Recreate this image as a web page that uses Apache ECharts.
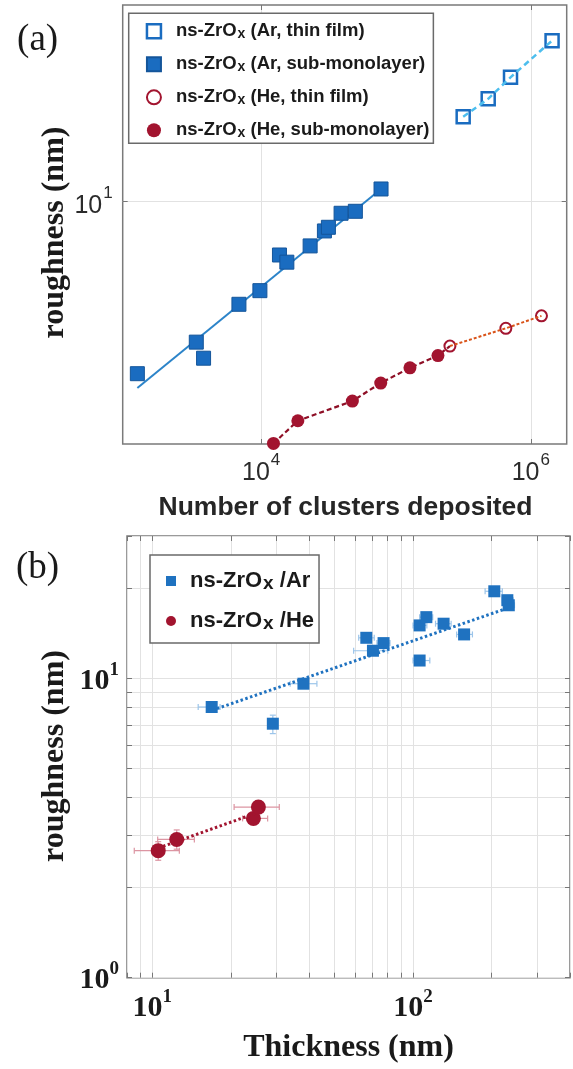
<!DOCTYPE html>
<html>
<head>
<meta charset="utf-8">
<script src="https://cdn.jsdelivr.net/npm/echarts@6/dist/echarts.min.js"></script>
<style>html,body{margin:0;padding:0;background:#fff}#c{width:573px;height:1069px}</style>
</head>
<body>
<div id="c"></div>
<script>
// ---------- Panel (a): roughness vs number of clusters ----------
const arThinN = [315000, 483000, 707000, 1438000];
const arThinR = [20.1, 23.3, 27.8, 37.6];
const arSubN = [1206, 3300, 3737, 6836, 9781, 13660, 15500, 23070, 29440, 31510, 39140, 49940, 77440];
const arSubR = [2.43, 3.15, 2.76, 4.30, 4.81, 6.45, 6.08, 6.95, 7.86, 8.10, 9.09, 9.24, 11.1];
const heThinN = [251200, 652900, 1200000];
const heThinR = [3.05, 3.53, 3.91];
const heSubN = [12330, 18700, 47460, 77040, 126900, 204700];
const heSubR = [1.37, 1.65, 1.94, 2.25, 2.55, 2.82];
const arSubFitN = [1206, 77440];
const arSubFitR = [2.16, 11.1];
const aXTicks = [1e4, 1e6];
const aYTicks = [10];

// ---------- Panel (b): roughness vs thickness ----------
const arT = [16.9, 29.0, 38.0, 66.2, 70.2, 77.1, 106, 106, 112.5, 131, 157, 205, 230, 233];
const arTR = [8.04, 7.07, 9.62, 13.7, 12.4, 13.15, 11.5, 15.07, 16.06, 15.27, 14.06, 19.6, 18.3, 17.6];
const arTLo = [15.0, 27.9, 33.8, 61.9, 59.2, 72.7, 100, 100, 106, 122, 147, 189, 220, 222];
const arTHi = [18.2, 30.1, 42.8, 71.0, 80.0, 81.6, 116, 113, 119, 140, 169, 220, 242, 245];
const arRLo = [7.9, 6.55, 9.45, 13.5, 12.2, 12.95, 11.3, 14.8, 15.8, 15.0, 13.8, 19.3, 18.0, 17.3];
const arRHi = [8.2, 7.55, 9.8, 13.9, 12.6, 13.35, 11.7, 15.3, 16.3, 15.5, 14.3, 19.9, 18.6, 17.9];
const heT = [10.54, 12.41, 24.43, 25.53];
const heTR = [2.66, 2.90, 3.41, 3.72];
const heTLo = [8.53, 10.49, 22.2, 20.6];
const heTHi = [12.7, 14.5, 27.7, 30.7];
const heRLo = [2.47, 2.69, 3.30, 3.60];
const heRHi = [2.85, 3.12, 3.52, 3.85];
const arFitT = [17.7, 232];
const arFitR = [7.94, 17.25];
const heFitT = [11.0, 25.0];
const heFitR = [2.75, 3.55];
const bXTicks = [8, 9, 10, 20, 30, 40, 50, 60, 70, 80, 90, 100, 200, 300, 400];
const bXLabels = [10, 100];
const bYTicks = [1, 2, 3, 4, 5, 6, 7, 8, 9, 10, 20, 30];
const bYLabels = [1, 10];

const zip = (xs, ys) => xs.map((x, i) => [x, ys[i]]);
const sup = v => '{b|10}{s|' + Math.round(Math.log10(v)) + '}';

const SANS = 'Liberation Sans';
const SERIF = 'Liberation Serif';
const richA = {
  b: {fontFamily: SANS, fontSize: 25, color: '#2b2b2b', padding: [9, 0, 0, 0]},
  s: {fontFamily: SANS, fontSize: 17, color: '#2b2b2b', verticalAlign: 'top', padding: [0, 0, 0, 1]}
};
const richB = {
  b: {fontFamily: SERIF, fontWeight: 'bold', fontSize: 30, color: '#1a1a1a', padding: [6, 0, 0, 0]},
  s: {fontFamily: SERIF, fontWeight: 'bold', fontSize: 19, color: '#1a1a1a', verticalAlign: 'top'}
};
const grid = '#e2e2e2';

function logAxis(gi, min, max, ticks, labels, rich, margin) {
  return {
    type: 'log', gridIndex: gi, min: min, max: max,
    axisLine: {show: false},
    axisTick: {show: true, inside: true, length: 5, customValues: ticks, lineStyle: {color: '#777', width: 1}},
    axisLabel: {customValues: labels, formatter: sup, rich: rich, margin: margin},
    splitLine: {show: true, lineStyle: {color: grid, width: 1}},
    minorTick: {show: false}, minorSplitLine: {show: false}
  };
}
// mirror axes on the opposite sides (box ticks only)
function mirrorAxis(gi, min, max, ticks, position) {
  return {
    type: 'log', gridIndex: gi, min: min, max: max, position: position,
    axisLine: {show: false},
    axisTick: {show: true, inside: true, length: 5, customValues: ticks, lineStyle: {color: '#777', width: 1}},
    axisLabel: {show: false},
    splitLine: {show: false}
  };
}

function errRender(params, api) {
  const x = api.value(0), y = api.value(1);
  const p0 = api.coord([api.value(2), y]), p1 = api.coord([api.value(3), y]);
  const q0 = api.coord([x, api.value(4)]), q1 = api.coord([x, api.value(5)]);
  const st = {stroke: api.visual('color'), lineWidth: 1.2};
  const c = 3;
  return {type: 'group', children: [
    {type: 'line', shape: {x1: p0[0], y1: p0[1], x2: p1[0], y2: p1[1]}, style: st},
    {type: 'line', shape: {x1: p0[0], y1: p0[1] - c, x2: p0[0], y2: p0[1] + c}, style: st},
    {type: 'line', shape: {x1: p1[0], y1: p1[1] - c, x2: p1[0], y2: p1[1] + c}, style: st},
    {type: 'line', shape: {x1: q0[0], y1: q0[1], x2: q1[0], y2: q1[1]}, style: st},
    {type: 'line', shape: {x1: q0[0] - c, y1: q0[1], x2: q0[0] + c, y2: q0[1]}, style: st},
    {type: 'line', shape: {x1: q1[0] - c, y1: q1[1], x2: q1[0] + c, y2: q1[1]}, style: st}
  ]};
}

const BLUE = '#1a6cc0', BLUE_E = '#14559a', LBLUE = '#4dbeee', RED = '#a2142f', ORANGE = '#d95319';

const chart = echarts.init(document.getElementById('c'), null, {renderer: 'canvas'});
chart.setOption({
  animation: false,
  backgroundColor: '#fff',
  grid: [
    {left: 122.7, top: 5, width: 444, height: 439, show: true, borderColor: '#7a7a7a', borderWidth: 1.5, backgroundColor: 'transparent'},
    {left: 127, top: 536, width: 443, height: 441.7, show: true, borderColor: '#7a7a7a', borderWidth: 1.5, backgroundColor: 'transparent'}
  ],
  xAxis: [
    logAxis(0, 938.9, 1.846e6, aXTicks, aXTicks, richA, 8),
    logAxis(1, 8, 400, bXTicks, bXLabels, richB, 10),
    mirrorAxis(0, 938.9, 1.846e6, aXTicks, 'top'),
    mirrorAxis(1, 8, 400, bXTicks, 'top')
  ],
  yAxis: [
    logAxis(0, 1.363, 50.4, aYTicks, aYTicks, richA, 10),
    logAxis(1, 1, 30, bYTicks, bYLabels, richB, 8),
    mirrorAxis(0, 1.363, 50.4, aYTicks, 'right'),
    mirrorAxis(1, 1, 30, bYTicks, 'right')
  ],
  legend: [
    {
      data: [
        {name: 'ns-ZrOx (Ar, thin film)', itemStyle: {borderWidth: 2.5}},
        {name: 'ns-ZrOx (Ar, sub-monolayer)'},
        {name: 'ns-ZrOx (He, thin film)', itemStyle: {borderWidth: 2}},
        {name: 'ns-ZrOx (He, sub-monolayer)'}
      ],
      orient: 'vertical', left: 128.7, top: 13.3, z: 10,
      itemWidth: 14, itemHeight: 14, itemGap: 5,
      padding: [0, 4, 3, 17],
      backgroundColor: '#fff', borderColor: '#6a6a6a', borderWidth: 1.5,
      selectedMode: false,
      formatter: n => n.replace('ZrOx', 'ZrO{sub|x}'),
      textStyle: {
        fontFamily: SANS, fontWeight: 'bold', fontSize: 18.5, color: '#1a1a1a', lineHeight: 20, padding: [0, 0, 0, 10],
        rich: {sub: {fontFamily: SANS, fontWeight: 'bold', fontSize: 14, color: '#1a1a1a', lineHeight: 16, verticalAlign: 'bottom', padding: [14, 0, 0, 1]}}
      }
    },
    {
      data: ['ns-ZrOx /Ar', 'ns-ZrOx /He'],
      orient: 'vertical', left: 150, top: 555, z: 10,
      itemWidth: 10, itemHeight: 10, itemGap: 3,
      padding: [1, 5, 10, 16],
      backgroundColor: '#fff', borderColor: '#6a6a6a', borderWidth: 1.5,
      selectedMode: false,
      formatter: n => n.replace('ZrOx', 'ZrO{sub|x}'),
      textStyle: {
        fontFamily: SANS, fontWeight: 'bold', fontSize: 22, color: '#1a1a1a', lineHeight: 24, padding: [0, 0, 0, 9],
        rich: {sub: {fontFamily: SANS, fontWeight: 'bold', fontSize: 19, color: '#1a1a1a', lineHeight: 18, verticalAlign: 'bottom', padding: [18, 0, 0, 1]}}
      }
    }
  ],
  graphic: [
    {type: 'text', x: 37.6, y: 40, style: {text: '(a)', font: '37px "Liberation Serif"', fill: '#1a1a1a', align: 'center', verticalAlign: 'middle'}},
    {type: 'text', x: 37.6, y: 568, style: {text: '(b)', font: '37px "Liberation Serif"', fill: '#1a1a1a', align: 'center', verticalAlign: 'middle'}},
    {type: 'text', x: 55, y: 232.5, rotation: Math.PI / 2, style: {text: 'roughness (nm)', font: 'bold 32px "Liberation Serif"', fill: '#1a1a1a', align: 'center', verticalAlign: 'middle'}},
    {type: 'text', x: 55, y: 756, rotation: Math.PI / 2, style: {text: 'roughness (nm)', font: 'bold 32px "Liberation Serif"', fill: '#1a1a1a', align: 'center', verticalAlign: 'middle'}},
    {type: 'text', x: 345.5, y: 508, style: {text: 'Number of clusters deposited', font: 'bold 26.5px "Liberation Sans"', fill: '#262626', align: 'center', verticalAlign: 'middle'}},
    {type: 'text', x: 348.5, y: 1048, style: {text: 'Thickness (nm)', font: 'bold 32px "Liberation Serif"', fill: '#1a1a1a', align: 'center', verticalAlign: 'middle'}}
  ],
  series: [
    {name: 'ns-ZrOx (Ar, thin film)', type: 'scatter', xAxisIndex: 0, yAxisIndex: 0, symbol: 'rect', symbolSize: 13, z: 3,
      itemStyle: {color: 'rgba(255,255,255,0)', borderColor: BLUE, borderWidth: 2.5, opacity: 1}, data: zip(arThinN, arThinR)},
    {name: 'ns-ZrOx (Ar, sub-monolayer)', type: 'scatter', xAxisIndex: 0, yAxisIndex: 0, symbol: 'rect', symbolSize: 14, z: 3,
      itemStyle: {color: BLUE, borderColor: BLUE_E, borderWidth: 1, opacity: 1}, data: zip(arSubN, arSubR)},
    {name: 'ns-ZrOx (He, thin film)', type: 'scatter', xAxisIndex: 0, yAxisIndex: 0, symbol: 'circle', symbolSize: 11, z: 3,
      itemStyle: {color: 'rgba(255,255,255,0)', borderColor: RED, borderWidth: 2, opacity: 1}, data: zip(heThinN, heThinR)},
    {name: 'ns-ZrOx (He, sub-monolayer)', type: 'scatter', xAxisIndex: 0, yAxisIndex: 0, symbol: 'circle', symbolSize: 13, z: 3,
      itemStyle: {color: RED, opacity: 1}, data: zip(heSubN, heSubR)},
    {type: 'line', xAxisIndex: 0, yAxisIndex: 0, symbol: 'none', z: 2, silent: true,
      lineStyle: {color: '#2c84c9', width: 2}, data: zip(arSubFitN, arSubFitR)},
    {type: 'line', xAxisIndex: 0, yAxisIndex: 0, symbol: 'none', z: 4, silent: true,
      lineStyle: {color: LBLUE, width: 2.5, type: [6, 4]}, data: zip(arThinN, arThinR)},
    {type: 'line', xAxisIndex: 0, yAxisIndex: 0, symbol: 'none', z: 2, silent: true,
      lineStyle: {color: '#8e0f26', width: 2.2, type: [5, 3]}, data: zip(heSubN.concat([heThinN[0]]), heSubR.concat([heThinR[0]]))},
    {type: 'line', xAxisIndex: 0, yAxisIndex: 0, symbol: 'none', z: 4, silent: true,
      lineStyle: {color: ORANGE, width: 2, type: [3, 2]}, data: zip(heThinN, heThinR)},

    {type: 'custom', xAxisIndex: 1, yAxisIndex: 1, z: 2, silent: true, itemStyle: {color: '#9cc5ea'}, renderItem: errRender,
      encode: {x: 0, y: 1}, data: arT.map((t, i) => [t, arTR[i], arTLo[i], arTHi[i], arRLo[i], arRHi[i]])},
    {type: 'custom', xAxisIndex: 1, yAxisIndex: 1, z: 2, silent: true, itemStyle: {color: '#dc95a2'}, renderItem: errRender,
      encode: {x: 0, y: 1}, data: heT.map((t, i) => [t, heTR[i], heTLo[i], heTHi[i], heRLo[i], heRHi[i]])},
    {name: 'ns-ZrOx /Ar', type: 'scatter', xAxisIndex: 1, yAxisIndex: 1, symbol: 'rect', symbolSize: 12, z: 3,
      itemStyle: {color: '#1f72c0', opacity: 1}, data: zip(arT, arTR)},
    {name: 'ns-ZrOx /He', type: 'scatter', xAxisIndex: 1, yAxisIndex: 1, symbol: 'circle', symbolSize: 15, z: 3,
      itemStyle: {color: RED, opacity: 1}, data: zip(heT, heTR)},
    {type: 'line', xAxisIndex: 1, yAxisIndex: 1, symbol: 'none', z: 4, silent: true,
      lineStyle: {color: '#1f72c0', width: 3, type: [2.5, 2.5]}, data: zip(arFitT, arFitR)},
    {type: 'line', xAxisIndex: 1, yAxisIndex: 1, symbol: 'none', z: 4, silent: true,
      lineStyle: {color: RED, width: 3, type: [2.5, 2.5]}, data: zip(heFitT, heFitR)}
  ]
});
</script>
</body>
</html>
